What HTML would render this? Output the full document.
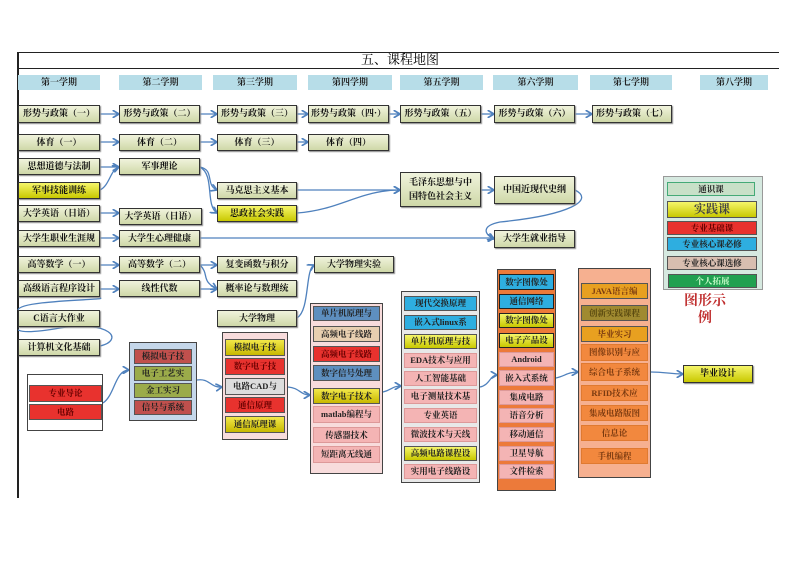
<!DOCTYPE html>
<html><head><meta charset="utf-8"><style>
body{margin:0;width:799px;height:565px;background:#fff;position:relative;overflow:hidden;font-family:"Liberation Serif","Noto Serif CJK SC","Noto Sans CJK SC",serif;}
div{position:absolute;box-sizing:border-box;}
.h{background:#b7dde8;font-size:9px;text-align:center;line-height:15px;color:#222;font-weight:bold;}
.b{background:linear-gradient(#f0f3dc,#cfd8a8);border:1.5px solid #333;font-size:9px;text-align:center;color:#111;font-weight:bold;white-space:nowrap;overflow:hidden;box-shadow:1px 1px 1px #888;}
.y{background:linear-gradient(#f5f56a,#c8c800);}
.g{border:1.5px solid #444;}
.i{font-size:8.5px;text-align:center;white-space:nowrap;overflow:hidden;color:#222;font-weight:bold;border:1px solid #555;}
.r{background:#e8322e;color:#600;}
.bl{background:#2eaee0;}
.bg{background:#5e8fbf;}
.yl{background:linear-gradient(#f2e84a,#c8b800);}
.pk{background:#f4b4b4;border-color:#d99;}
.or{background:#f2883e;border-color:#e07a30;color:#7a3a10;}
</style></head><body>
<div style="left:17px;top:52px;width:762px;height:1px;background:#222"></div>
<div style="left:17px;top:68px;width:762px;height:1px;background:#222"></div>
<div style="left:17px;top:52px;width:2px;height:446px;background:#222"></div>
<div style="left:340px;top:52px;width:120px;height:16px;font-size:13px;line-height:16px;text-align:center">五、课程地图</div>

<div class="h" style="left:18px;top:75px;width:82px">第一学期</div>
<div class="h" style="left:119px;top:75px;width:83px">第二学期</div>
<div class="h" style="left:213px;top:75px;width:84px">第三学期</div>
<div class="h" style="left:308px;top:75px;width:84px">第四学期</div>
<div class="h" style="left:400px;top:75px;width:83px">第五学期</div>
<div class="h" style="left:493px;top:75px;width:85px">第六学期</div>
<div class="h" style="left:590px;top:75px;width:82px">第七学期</div>
<div class="h" style="left:700px;top:75px;width:68px">第八学期</div>

<svg width="799" height="565" style="position:absolute;left:0;top:0" fill="none" stroke="#4f81bd" stroke-width="1.3">
<defs><marker id="a" markerWidth="6" markerHeight="6" refX="5" refY="3" orient="auto"><path d="M0,0L5,3L0,6" stroke="#4f81bd" fill="none"/></marker></defs>
<g marker-end="url(#a)">
<path d="M100,114H119"/><path d="M200,114H217"/><path d="M297,114H308"/><path d="M389,114H400"/><path d="M481,114H494"/><path d="M575,114H592"/>
<path d="M100,142H119"/><path d="M200,142H217"/><path d="M297,142H308"/>
<path d="M100,167H119"/><path d="M100,190C110,185 110,170 119,167"/>
<path d="M200,167C215,170 205,185 217,190"/><path d="M200,167C215,175 205,205 217,213"/>
<path d="M297,190H400"/><path d="M297,213C340,210 360,190 400,190"/>
<path d="M481,190H494"/>
<path d="M575,190C595,200 570,215 500,222C480,226 485,235 494,239"/>
<path d="M100,213H119"/><path d="M100,238H119"/><path d="M200,238H494"/>
<path d="M100,265H119"/><path d="M200,265H217"/><path d="M200,265C210,275 200,280 217,289"/>
<path d="M100,289H119"/><path d="M200,289H217"/>
<path d="M297,318C310,310 305,270 314,265"/>
<path d="M103,403C115,395 115,370 129,370"/>
<path d="M197,380C210,378 210,388 222,387"/>
<path d="M288,387C300,388 300,395 310,395"/>
<path d="M383,392C392,390 392,386 401,386"/>
<path d="M480,387C490,385 490,375 497,375"/>
<path d="M556,378C565,376 568,372 578,372"/>
<path d="M651,372C665,372 670,374 683,374"/>
</g>
<path d="M100,298C110,300 20,300 18,310"/>
<path d="M100,346C125,340 110,320 60,328C20,335 20,330 18,330"/>
</svg>

<div class="b" style="left:18px;top:105px;width:82px;height:18px;line-height:15px">形势与政策（一）</div>
<div class="b" style="left:119px;top:105px;width:81px;height:18px;line-height:15px">形势与政策（二）</div>
<div class="b" style="left:217px;top:105px;width:80px;height:18px;line-height:15px">形势与政策（三）</div>
<div class="b" style="left:308px;top:105px;width:81px;height:18px;line-height:15px">形势与政策（四·）</div>
<div class="b" style="left:400px;top:105px;width:81px;height:18px;line-height:15px">形势与政策（五）</div>
<div class="b" style="left:494px;top:105px;width:81px;height:18px;line-height:15px">形势与政策（六）</div>
<div class="b" style="left:592px;top:105px;width:80px;height:18px;line-height:15px">形势与政策（七）</div>
<div class="b" style="left:18px;top:134px;width:82px;height:17px;line-height:14px">体育（一）</div>
<div class="b" style="left:119px;top:134px;width:81px;height:17px;line-height:14px">体育（二）</div>
<div class="b" style="left:217px;top:134px;width:80px;height:17px;line-height:14px">体育（三）</div>
<div class="b" style="left:308px;top:134px;width:81px;height:17px;line-height:14px">体育（四）</div>
<div class="b" style="left:18px;top:158px;width:82px;height:17px;line-height:14px">思想道德与法制</div>
<div class="b" style="left:119px;top:158px;width:81px;height:17px;line-height:14px">军事理论</div>
<div class="b y" style="left:18px;top:182px;width:82px;height:17px;line-height:14px">军事技能训练</div>
<div class="b" style="left:217px;top:182px;width:80px;height:17px;line-height:14px">马克思主义基本</div>
<div class="b y" style="left:217px;top:205px;width:80px;height:17px;line-height:14px">思政社会实践</div>
<div class="b" style="left:400px;top:172px;width:81px;height:35px;line-height:14px;padding-top:2px">毛泽东思想与中<br>国特色社会主义</div>
<div class="b" style="left:494px;top:176px;width:81px;height:28px;line-height:25px">中国近现代史纲</div>
<div class="b" style="left:18px;top:205px;width:82px;height:17px;line-height:14px">大学英语（日语）</div>
<div class="b" style="left:119px;top:208px;width:83px;height:17px;line-height:14px">大学英语（日语）</div>
<div class="b" style="left:18px;top:230px;width:82px;height:17px;line-height:14px">大学生职业生涯规</div>
<div class="b" style="left:119px;top:230px;width:81px;height:17px;line-height:14px">大学生心理健康</div>
<div class="b" style="left:494px;top:230px;width:81px;height:18px;line-height:15px">大学生就业指导</div>
<div class="b" style="left:18px;top:256px;width:82px;height:17px;line-height:14px">高等数学（一）</div>
<div class="b" style="left:119px;top:256px;width:81px;height:17px;line-height:14px">高等数学（二）</div>
<div class="b" style="left:217px;top:256px;width:80px;height:17px;line-height:14px">复变函数与积分</div>
<div class="b" style="left:314px;top:256px;width:80px;height:17px;line-height:14px">大学物理实验</div>
<div class="b" style="left:18px;top:280px;width:82px;height:17px;line-height:14px">高级语言程序设计</div>
<div class="b" style="left:119px;top:280px;width:81px;height:17px;line-height:14px">线性代数</div>
<div class="b" style="left:217px;top:280px;width:80px;height:17px;line-height:14px">概率论与数理统</div>
<div class="b" style="left:18px;top:310px;width:82px;height:17px;line-height:14px">C语言大作业</div>
<div class="b" style="left:217px;top:310px;width:80px;height:17px;line-height:14px">大学物理</div>
<div class="b" style="left:18px;top:339px;width:82px;height:17px;line-height:14px">计算机文化基础</div>

<!-- legend -->
<div style="left:663px;top:176px;width:100px;height:114px;background:#d6e9e0;border:1px solid #999"></div>
<div class="i" style="left:667px;top:182px;width:88px;height:14px;line-height:12px;background:#c8e0c8;border-color:#4a7">通识课</div>
<div class="i y" style="left:667px;top:201px;width:90px;height:17px;line-height:15px;font-size:12px;color:#444">实践课</div>
<div class="i r" style="left:667px;top:221px;width:90px;height:14px;line-height:12px">专业基础课</div>
<div class="i bl" style="left:667px;top:237px;width:90px;height:14px;line-height:12px">专业核心课必修</div>
<div class="i" style="left:667px;top:256px;width:90px;height:14px;line-height:12px;background:#d8beb0">专业核心课选修</div>
<div class="i" style="left:668px;top:274px;width:89px;height:14px;line-height:12px;background:#20a050;color:#cfc">个人拓展</div>
<div style="left:675px;top:293px;width:60px;font-size:14px;line-height:17px;color:#c03030;text-align:center;font-weight:bold">图形示<br>例</div>

<!-- group1 -->
<div class="g" style="left:27px;top:374px;width:76px;height:57px;background:#fff"></div>
<div class="i r" style="left:29px;top:385px;width:73px;height:17px;line-height:15px">专业导论</div>
<div class="i r" style="left:29px;top:404px;width:73px;height:16px;line-height:14px">电路</div>
<!-- group2 -->
<div class="g" style="left:129px;top:342px;width:68px;height:79px;background:#c5d7ea"></div>
<div class="i" style="left:134px;top:349px;width:58px;height:15px;line-height:13px;background:#c0504d">模拟电子技</div>
<div class="i" style="left:134px;top:366px;width:58px;height:15px;line-height:13px;background:#9bab4a">电子工艺实</div>
<div class="i" style="left:134px;top:383px;width:58px;height:15px;line-height:13px;background:#9bab4a">金工实习</div>
<div class="i" style="left:134px;top:400px;width:58px;height:15px;line-height:13px;background:#c0504d">信号与系统</div>
<!-- group3 -->
<div class="g" style="left:222px;top:332px;width:66px;height:108px;background:#f8dcdc"></div>
<div class="i yl" style="left:225px;top:339px;width:60px;height:17px;line-height:15px">模拟电子技</div>
<div class="i r" style="left:225px;top:358px;width:60px;height:17px;line-height:15px">数字电子技</div>
<div class="i" style="left:225px;top:378px;width:60px;height:17px;line-height:15px;background:#ddd">电路CAD与</div>
<div class="i r" style="left:225px;top:397px;width:60px;height:16px;line-height:14px">通信原理</div>
<div class="i yl" style="left:225px;top:416px;width:60px;height:17px;line-height:15px">通信原理课</div>
<!-- group4 -->
<div class="g" style="left:310px;top:303px;width:73px;height:171px;background:#f8dcdc"></div>
<div class="i bg" style="left:313px;top:306px;width:67px;height:15px;line-height:13px">单片机原理与</div>
<div class="i" style="left:313px;top:326px;width:67px;height:16px;line-height:14px;background:#e8cfb0">高频电子线路</div>
<div class="i r" style="left:313px;top:346px;width:67px;height:16px;line-height:14px">高频电子线路</div>
<div class="i bg" style="left:313px;top:365px;width:67px;height:16px;line-height:14px">数字信号处理</div>
<div class="i yl" style="left:313px;top:388px;width:67px;height:16px;line-height:14px">数字电子技术</div>
<div class="i pk" style="left:313px;top:406px;width:67px;height:17px;line-height:15px">matlab编程与</div>
<div class="i pk" style="left:313px;top:427px;width:67px;height:16px;line-height:14px">传感器技术</div>
<div class="i pk" style="left:313px;top:446px;width:67px;height:17px;line-height:15px">短距离无线通</div>
<!-- group5 -->
<div class="g" style="left:401px;top:291px;width:79px;height:192px;background:#e8e8e8"></div>
<div class="i bl" style="left:404px;top:296px;width:73px;height:15px;line-height:13px">现代交换原理</div>
<div class="i bl" style="left:404px;top:315px;width:73px;height:15px;line-height:13px">嵌入式linux系</div>
<div class="i y" style="left:404px;top:334px;width:73px;height:15px;line-height:13px">单片机原理与技</div>
<div class="i pk" style="left:404px;top:353px;width:73px;height:15px;line-height:13px">EDA技术与应用</div>
<div class="i pk" style="left:404px;top:371px;width:73px;height:15px;line-height:13px">人工智能基础</div>
<div class="i pk" style="left:404px;top:389px;width:73px;height:15px;line-height:13px">电子测量技术基</div>
<div class="i pk" style="left:404px;top:408px;width:73px;height:15px;line-height:13px">专业英语</div>
<div class="i pk" style="left:404px;top:427px;width:73px;height:15px;line-height:13px">微波技术与天线</div>
<div class="i y" style="left:404px;top:446px;width:73px;height:15px;line-height:13px">高频电路课程设</div>
<div class="i pk" style="left:404px;top:464px;width:73px;height:15px;line-height:13px">实用电子线路设</div>
<!-- group6 -->
<div class="g" style="left:497px;top:269px;width:59px;height:222px;background:#ec7a3a"></div>
<div class="i bl" style="left:499px;top:274px;width:55px;height:16px;line-height:14px;border-color:#222">数字图像处</div>
<div class="i bl" style="left:499px;top:294px;width:55px;height:15px;line-height:13px;border-color:#222">通信网络</div>
<div class="i y" style="left:499px;top:313px;width:55px;height:15px;line-height:13px;border-color:#222">数字图像处</div>
<div class="i y" style="left:499px;top:333px;width:55px;height:15px;line-height:13px;border-color:#222">电子产品设</div>
<div class="i pk" style="left:499px;top:352px;width:55px;height:15px;line-height:13px">Android</div>
<div class="i pk" style="left:499px;top:370px;width:55px;height:16px;line-height:14px">嵌入式系统</div>
<div class="i pk" style="left:499px;top:390px;width:55px;height:15px;line-height:13px">集成电路</div>
<div class="i pk" style="left:499px;top:408px;width:55px;height:15px;line-height:13px">语音分析</div>
<div class="i pk" style="left:499px;top:427px;width:55px;height:15px;line-height:13px">移动通信</div>
<div class="i pk" style="left:499px;top:446px;width:55px;height:15px;line-height:13px">卫星导航</div>
<div class="i pk" style="left:499px;top:464px;width:55px;height:15px;line-height:13px">文件检索</div>
<!-- group7 -->
<div class="g" style="left:578px;top:268px;width:73px;height:210px;background:#f6b090"></div>
<div class="i" style="left:581px;top:283px;width:67px;height:16px;line-height:14px;background:#e8a020;color:#7a3a10">JAVA语言编</div>
<div class="i" style="left:581px;top:305px;width:67px;height:16px;line-height:14px;background:#a08a30;color:#5a4a10">创新实践课程</div>
<div class="i" style="left:581px;top:326px;width:67px;height:16px;line-height:14px;background:#e8a020;color:#7a3a10">毕业实习</div>
<div class="i or" style="left:581px;top:344px;width:67px;height:17px;line-height:15px">图像识别与应</div>
<div class="i or" style="left:581px;top:363px;width:67px;height:18px;line-height:16px">综合电子系统</div>
<div class="i or" style="left:581px;top:385px;width:67px;height:16px;line-height:14px">RFID技术应</div>
<div class="i or" style="left:581px;top:405px;width:67px;height:16px;line-height:14px">集成电路版图</div>
<div class="i or" style="left:581px;top:425px;width:67px;height:16px;line-height:14px">信息论</div>
<div class="i or" style="left:581px;top:448px;width:67px;height:16px;line-height:14px">手机编程</div>
<div class="b y" style="left:683px;top:365px;width:70px;height:18px;line-height:15px">毕业设计</div>
</body></html>
